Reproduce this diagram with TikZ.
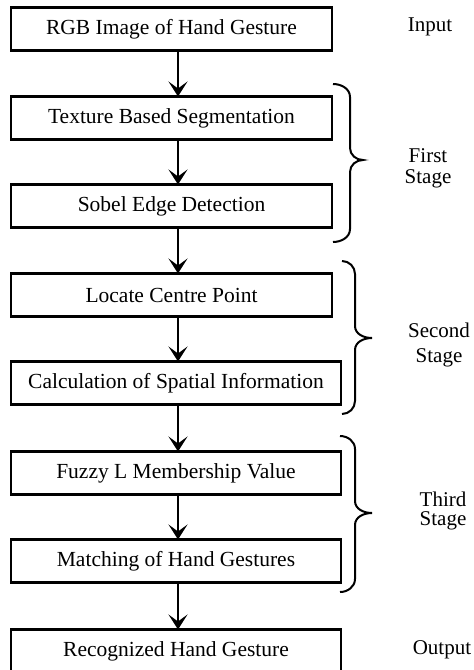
\documentclass[tikz,border=0pt]{standalone}
\usepackage{fontspec}
\setmainfont{Liberation Serif}
\usetikzlibrary{arrows.meta}
\begin{document}
\begin{tikzpicture}[x=1pt,y=-1pt,
  box/.style={draw, line width=2.6pt, inner sep=0pt, outer sep=0pt, anchor=north west,
    minimum height=43pt, font=\fontsize{21.5}{24}\selectfont},
  narrow/.style={minimum width=321pt},
  wide/.style={minimum width=330pt},
  arr/.style={line width=2.4pt, -{Stealth[length=15pt,width=19pt,inset=7pt]}},
  brc/.style={line width=2pt},
  lab/.style={inner sep=0pt, align=center}]
\useasboundingbox (0,0) rectangle (474,670);
\clip (0,0) rectangle (474,670);

\node[box,narrow] (b1) at (11,7.5)   {RGB Image of Hand Gesture};
\node[box,narrow] (b2) at (11,96.5)  {Texture Based Segmentation};
\node[box,narrow] (b3) at (11,184.5) {Sobel Edge Detection};
\node[box,narrow] (b4) at (11,273.5) {Locate Centre Point};
\node[box,wide]   (b5) at (11,361.5) {Calculation of Spatial Information};
\node[box,wide]   (b6) at (11,451.5) {Fuzzy L Membership Value};
\node[box,wide]   (b7) at (11,539.5) {Matching of Hand Gestures};
\node[box,wide]   (b8) at (11,629.5) {Recognized Hand Gesture};

\coordinate (ax) at (178,0);
\foreach \a/\b in {b1/b2,b2/b3,b3/b4,b4/b5,b5/b6,b6/b7,b7/b8}
  \draw[arr] (\a.south -| ax) -- (\b.north -| ax);

% braces
\draw[brc] (333,84) to[out=0,in=90] (350,97) -- (350,148) to[out=-90,in=180] (363,160)
  to[out=180,in=90] (350,172) -- (350,229) to[out=-90,in=0] (333,242);
\draw[brc] (342,261) to[out=0,in=90] (355,274) -- (355,326) to[out=-90,in=180] (372,338)
  to[out=180,in=90] (355,350) -- (355,401) to[out=-90,in=0] (342,414);
\draw[brc] (340,436) to[out=0,in=90] (355,449) -- (355,501) to[out=-90,in=180] (372,513)
  to[out=180,in=90] (355,525) -- (355,579) to[out=-90,in=0] (340,592);

% labels
\node[lab, font=\fontsize{21}{24}\selectfont] (lin) at (430,27) {Input};
\node[lab, font=\fontsize{21}{21}\selectfont] (l1) at (428,168) {First\\Stage};
\node[lab, font=\fontsize{21}{25}\selectfont] (l2) at (439,345) {Second\\Stage};
\node[lab, font=\fontsize{21}{19.5}\selectfont] (l3) at (443,511) {Third\\Stage};
\node[lab, font=\fontsize{21}{24}\selectfont] (lout) at (442,650) {Output};
\end{tikzpicture}
\end{document}
